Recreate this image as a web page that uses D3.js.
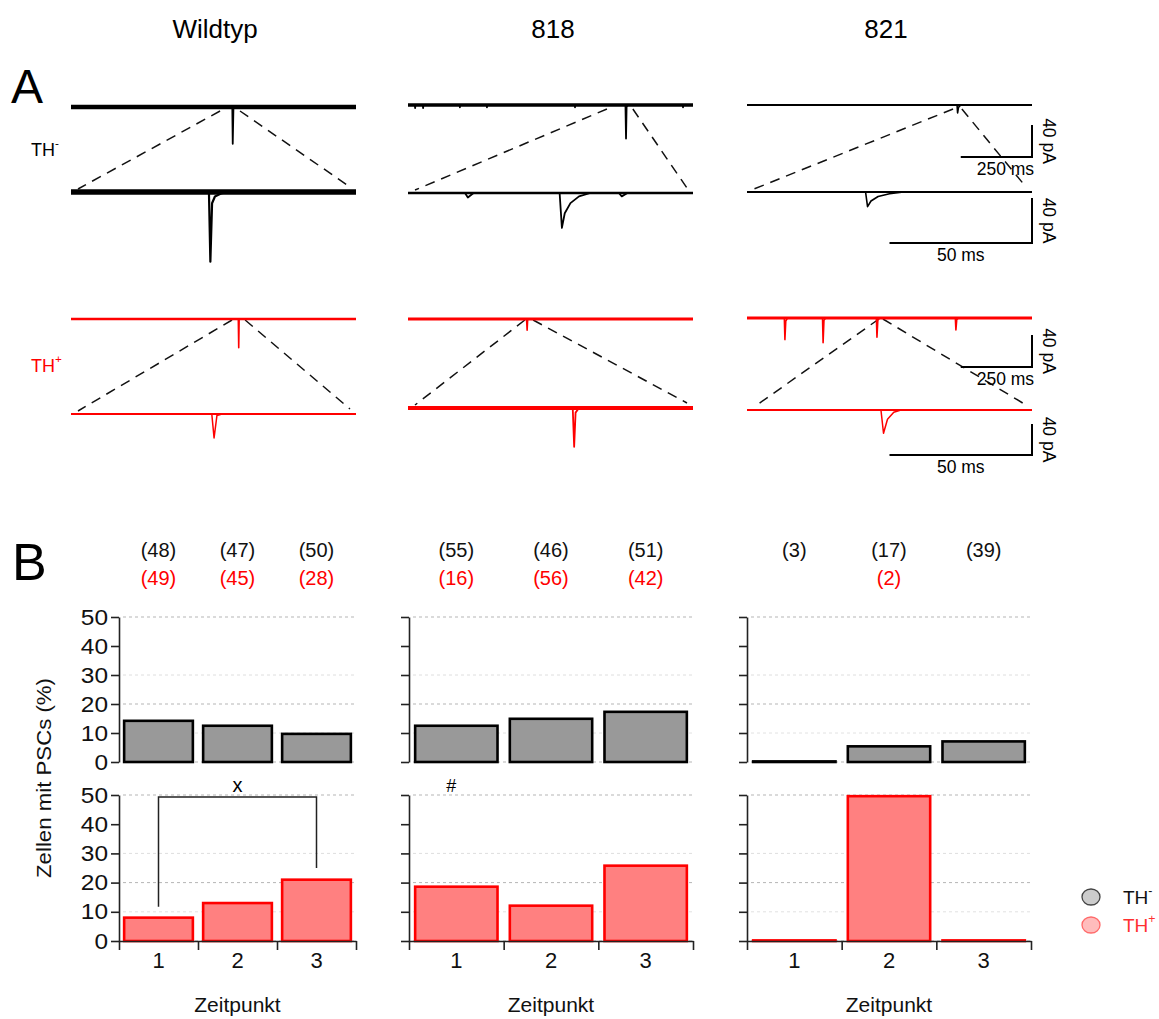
<!DOCTYPE html>
<html>
<head>
<meta charset="utf-8">
<script src="https://cdn.jsdelivr.net/npm/d3@7"></script>
<style>
  html, body { margin: 0; padding: 0; background: #fff; }
  svg { display: block; font-family: "Liberation Sans", Arial, sans-serif; }
</style>
</head>
<body>
<svg id="chart" width="1159" height="1019"></svg>
<script>
// ---------------- DATA ----------------
const groups = ["Wildtyp", "818", "821"];
const timepoints = ["1", "2", "3"];
const yTicks = [0, 10, 20, 30, 40, 50];

// % cells with PSCs
const wtMinus = [14.2, 12.5, 9.7];
const wtPlus = [8.0, 13.0, 21.0];
const m818Minus = [12.5, 14.9, 17.3];
const m818Plus = [18.6, 12.1, 25.8];
const m821Minus = [0, 5.4, 7.1];
const m821Plus = [0, 49.6, 0];

// number of cells (n)
const wtMinusN = [48, 47, 50];
const wtPlusN = [49, 45, 28];
const m818MinusN = [55, 46, 51];
const m818PlusN = [16, 56, 42];
const m821MinusN = [3, 17, 39];
const m821PlusN = [null, 2, null];

// example traces: [time (ms), current (pA)]
const wtMinusLong = [[0,0],[566,0],[567.5,-46],[570,0],[1000,0]];
const wtMinusShort = [[0,0],[48.4,0],[48.9,-62],[49.5,-10],[50.5,-4],[53,-1],[56,0],[100,0]];
const m818MinusLong = [[0,0],[24,0],[25,-4],[26,0],[52,0],[53,-4],[54,0],[181,0],[182,-3],[183,0],[276,0],[277,-3],[278,0],[585,0],[586,-3],[587,0],[763,0],[765,-42],[767,-2],[772,0],[964,0],[965,-3],[966,0],[1000,0]];
const m818MinusShort = [[0,0],[20,0],[21,-4],[23,0],[53.2,0],[54,-31],[55,-18],[57,-9],[60,-3],[64,0],[74,0],[75,-3],[77,0],[100,0]];
const m821MinusLong = [[0,0],[737,0],[739,-10],[742,-3],[750,0],[1000,0]];
const m821MinusShort = [[0,0],[41.6,0],[42.3,-13],[43.5,-8],[46,-4],[50,-1.5],[55,0],[100,0]];
const wtPlusLong = [[0,0],[587,0],[588.5,-36],[590,0],[1000,0]];
const wtPlusShort = [[0,0],[49.4,0],[50.2,-31],[51.2,-2],[53,0],[100,0]];
const m818PlusLong = [[0,0],[416,0],[418,-14],[420,0],[1000,0]];
const m818PlusShort = [[0,0],[57.8,0],[58.3,-50],[58.8,-6],[60,0],[100,0]];
const m821PlusLong = [[0,0],[131,0],[133,-27],[136,-4],[142,0],[265,0],[267,-31],[270,-3],[276,0],[454,0],[456,-24],[459,-3],[465,0],[731,0],[733,-15],[736,-2],[742,0],[1000,0]];
const m821PlusShort = [[0,0],[47,0],[47.9,-30],[49.3,-12],[51.5,-3],[54,0],[100,0]];

// zoomed window (ms) in the long traces
const minusZoomWin = [[523, 593], [698, 789], [723, 754]];
const plusZoomWin = [[565, 611], [410, 439], [463, 477]];

// ---------------- LAYOUT ----------------
const svg = d3.select("#chart");
const RED = "#ff0000";
const traceX = [71, 408, 747];
const traceW = 285;
const rows = [
  { bases: [107, 105, 105], k: 0.8,   dur: 1000, color: "#000", noise: [4.5, 3.5, 2.2], widths: [1.8, 1.8, 1.6],
    data: [wtMinusLong, m818MinusLong, m821MinusLong] },
  { bases: [192, 193, 192], k: 1.125, dur: 100,  color: "#000", noise: [5.5, 2.6, 2.0], widths: [2.2, 1.8, 1.6],
    data: [wtMinusShort, m818MinusShort, m821MinusShort] },
  { bases: [319, 319, 318], k: 0.8,   dur: 1000, color: RED, noise: [2.6, 3.2, 2.8], widths: [1.6, 1.6, 1.6],
    data: [wtPlusLong, m818PlusLong, m821PlusLong] },
  { bases: [414, 408, 410], k: 0.775, dur: 100,  color: RED, noise: [1.8, 4, 2.0], widths: [1.5, 1.8, 1.5],
    data: [wtPlusShort, m818PlusShort, m821PlusShort] }
];

function traceScales(row, c) {
  const x = d3.scaleLinear().domain([0, row.dur]).range([traceX[c], traceX[c] + traceW]);
  const y = d3.scaleLinear().domain([0, -40]).range([row.bases[c], row.bases[c] + 40 * row.k]);
  return { x, y };
}

// Titles
const titleX = [215, 553, 886];
groups.forEach((g, i) => {
  svg.append("text").attr("x", titleX[i]).attr("y", 38).attr("text-anchor", "middle")
    .attr("font-size", 26).attr("fill", "#000").text(g);
});
svg.append("text").attr("x", 11).attr("y", 103).attr("font-size", 48).text("A");
svg.append("text").attr("x", 12).attr("y", 580).attr("font-size", 52).text("B");

// TH labels
function thLabel(x, y, sign, color, size) {
  const t = svg.append("text").attr("x", x).attr("y", y).attr("font-size", size).attr("fill", color);
  t.append("tspan").text("TH");
  t.append("tspan").attr("dy", -size * 0.5).attr("font-size", size * 0.65).text(sign);
  return t;
}
thLabel(31, 156, "-", "#000", 18);
thLabel(31, 372, "+", RED, 18);

// Dashed zoom lines
const zoomPairs = [
  { longRow: rows[0], shortRow: rows[1], win: minusZoomWin, topDy: 4 },
  { longRow: rows[2], shortRow: rows[3], win: plusZoomWin, topDy: 1 }
];
zoomPairs.forEach(p => {
  for (let c = 0; c < 3; c++) {
    const s = traceScales(p.longRow, c);
    const yTop = p.longRow.bases[c] + p.topDy;
    const yBot = p.shortRow.bases[c];
    const segs = [
      [[s.x(p.win[c][0]), yTop], [traceX[c] + 7, yBot - 3]],
      [[s.x(p.win[c][1]), yTop], [traceX[c] + traceW - 6, yBot - 5]]
    ];
    segs.forEach(sg => {
      svg.append("line").attr("x1", sg[0][0]).attr("y1", sg[0][1]).attr("x2", sg[1][0]).attr("y2", sg[1][1])
        .attr("stroke", "#111").attr("stroke-width", 1.5).attr("stroke-dasharray", "10,7");
    });
  }
});

// Traces: baseline noise band + trace line
rows.forEach(row => {
  row.data.forEach((d, c) => {
    const s = traceScales(row, c);
    svg.append("line").attr("x1", s.x(0)).attr("x2", s.x(row.dur)).attr("y1", s.y(0)).attr("y2", s.y(0))
      .attr("stroke", row.color).attr("stroke-width", row.noise[c]);
    const line = d3.line().x(p => s.x(p[0])).y(p => s.y(p[1]));
    svg.append("path").attr("d", line(d)).attr("fill", "none")
      .attr("stroke", row.color).attr("stroke-width", row.widths[c])
      .attr("stroke-linejoin", "round");
  });
});

// Scale bars (column 821)
function scaleBar(row, c, ms, topY, label) {
  const s = traceScales(row, c);
  const xR = s.x(row.dur);
  const xL = s.x(row.dur - ms);
  const yB = topY + 40 * row.k;
  svg.append("path").attr("d", `M${xL},${yB}H${xR}V${topY}`).attr("fill", "none")
    .attr("stroke", "#000").attr("stroke-width", 2);
  svg.append("text").attr("x", (xL + xR) / 2 + (ms > 100 ? 9 : 0)).attr("y", yB + 18)
    .attr("text-anchor", "middle").attr("font-size", 17.5).text(label);
  svg.append("text").attr("transform", `translate(${xR + 11},${(topY + yB) / 2}) rotate(90)`)
    .attr("text-anchor", "middle").attr("font-size", 17.5).text("40 pA");
}
scaleBar(rows[0], 2, 250, 125, "250 ms");
scaleBar(rows[1], 2, 50, 198, "50 ms");
scaleBar(rows[2], 2, 250, 335, "250 ms");
scaleBar(rows[3], 2, 50, 424, "50 ms");

// ---------------- PANEL B ----------------
const panels = [
  { x0: 119, x1: 356, minus: wtMinus, plus: wtPlus, nMinus: wtMinusN, nPlus: wtPlusN, labels: true },
  { x0: 409, x1: 693, minus: m818Minus, plus: m818Plus, nMinus: m818MinusN, nPlus: m818PlusN, labels: false },
  { x0: 747, x1: 1031, minus: m821Minus, plus: m821Plus, nMinus: m821MinusN, nPlus: m821PlusN, labels: false }
];
const yTop = d3.scaleLinear().domain([0, 50]).range([762, 617]);
const yBot = d3.scaleLinear().domain([0, 50]).range([941, 795]);
const gridStyle = { 50: "#b5b5b5", 40: null, 30: "#dedede", 20: "#b5b5b5", 10: "#e2e2e2", 0: "#b5b5b5" };

panels.forEach((p, pi) => {
  const x = d3.scaleBand().domain(timepoints).range([p.x0, p.x1]).paddingInner(0.13).paddingOuter(0.065);
  const xLin = d3.scaleLinear().domain([0, 3]).range([p.x0, p.x1]);

  [{ y: yTop, vals: p.minus, fill: "#999999", stroke: "#000", xaxis: false },
   { y: yBot, vals: p.plus, fill: "#ff8080", stroke: RED, xaxis: true }].forEach(ch => {
    const g = svg.append("g");
    yTicks.forEach(t => {
      if (!gridStyle[t]) return;
      g.append("line").attr("x1", p.x0 + 4).attr("x2", p.x1).attr("y1", ch.y(t)).attr("y2", ch.y(t))
        .attr("stroke", gridStyle[t]).attr("stroke-width", 1).attr("stroke-dasharray", "3,3");
    });
    g.selectAll("rect.bar").data(ch.vals).join("rect").attr("class", "bar")
      .attr("x", (d, i) => x(timepoints[i]))
      .attr("width", x.bandwidth())
      .attr("y", d => ch.y(d) - (d === 0 ? 0.6 : 0))
      .attr("height", d => Math.max(ch.y(0) - ch.y(d), 0.6))
      .attr("fill", ch.fill).attr("stroke", ch.stroke).attr("stroke-width", 2.6);
    const ax = d3.axisLeft(ch.y).tickValues(yTicks).tickSize(8).tickSizeOuter(0)
      .tickFormat(p.labels ? d3.format("d") : () => "");
    const ga = g.append("g").attr("transform", `translate(${p.x0},0)`).call(ax);
    ga.select(".domain").attr("stroke", "#222").attr("stroke-width", 1.6);
    ga.selectAll(".tick line").attr("stroke", "#222").attr("stroke-width", 1.6);
    ga.selectAll(".tick text").attr("font-size", 22).attr("fill", "#111")
      .attr("font-family", "Liberation Sans, Arial, sans-serif").attr("x", -11)
      .attr("textLength", d => String(d).length * 13.6)
      .attr("lengthAdjust", "spacingAndGlyphs");
    if (ch.xaxis) {
      const bx = d3.axisBottom(xLin).tickValues([0, 1, 2, 3]).tickSize(9).tickSizeOuter(0).tickFormat(() => "");
      const gb = g.append("g").attr("transform", `translate(0,${ch.y(0)})`).call(bx);
      gb.select(".domain").attr("stroke", "#222").attr("stroke-width", 1.6);
      gb.selectAll(".tick line").attr("stroke", "#222").attr("stroke-width", 1.6);
      timepoints.forEach(t => {
        g.append("text").attr("x", x(t) + x.bandwidth() / 2).attr("y", 968).attr("text-anchor", "middle")
          .attr("font-size", 22).attr("fill", "#111").text(t);
      });
    }
  });

  timepoints.forEach((t, i) => {
    const cx = x(t) + x.bandwidth() / 2;
    if (p.nMinus[i] != null)
      svg.append("text").attr("x", cx).attr("y", 557).attr("text-anchor", "middle").attr("font-size", 20)
        .attr("fill", "#111").text(`(${p.nMinus[i]})`);
    if (p.nPlus[i] != null)
      svg.append("text").attr("x", cx).attr("y", 585).attr("text-anchor", "middle").attr("font-size", 20)
        .attr("fill", RED).text(`(${p.nPlus[i]})`);
  });

  svg.append("text").attr("x", (p.x0 + p.x1) / 2).attr("y", 1012).attr("text-anchor", "middle")
    .attr("font-size", 21).attr("fill", "#111").text("Zeitpunkt");

  if (pi === 0) {
    const c1 = x("1") + x.bandwidth() / 2, c3 = x("3") + x.bandwidth() / 2;
    svg.append("path").attr("d", `M${c1},${yBot(11.7)}V${yBot(49.3)}H${c3}V${yBot(25)}`)
      .attr("fill", "none").attr("stroke", "#222").attr("stroke-width", 1.5);
    svg.append("text").attr("x", (c1 + c3) / 2).attr("y", 792).attr("text-anchor", "middle")
      .attr("font-size", 20).text("x");
  }
  if (pi === 1) {
    svg.append("text").attr("x", x("1") + x.bandwidth() / 2 - 5).attr("y", 792).attr("text-anchor", "middle")
      .attr("font-size", 18).text("#");
  }
});

// y axis title
svg.append("text").attr("transform", "translate(51,778) rotate(-90)").attr("text-anchor", "middle")
  .attr("font-size", 21).attr("fill", "#111")
  .attr("textLength", 200).attr("lengthAdjust", "spacingAndGlyphs")
  .text("Zellen mit PSCs (%)");

// Legend
const legend = [
  { label: "-", fill: "#cccccc", stroke: "#444", color: "#111", y: 897 },
  { label: "+", fill: "#ffbcbc", stroke: "#ff6a6a", color: "#ff3030", y: 925 }
];
legend.forEach(l => {
  svg.append("ellipse").attr("cx", 1091).attr("cy", l.y).attr("rx", 9).attr("ry", 8)
    .attr("fill", l.fill).attr("stroke", l.stroke).attr("stroke-width", 1.3);
  thLabel(1123, l.y + 7, l.label, l.color, 19);
});
</script>
</body>
</html>
